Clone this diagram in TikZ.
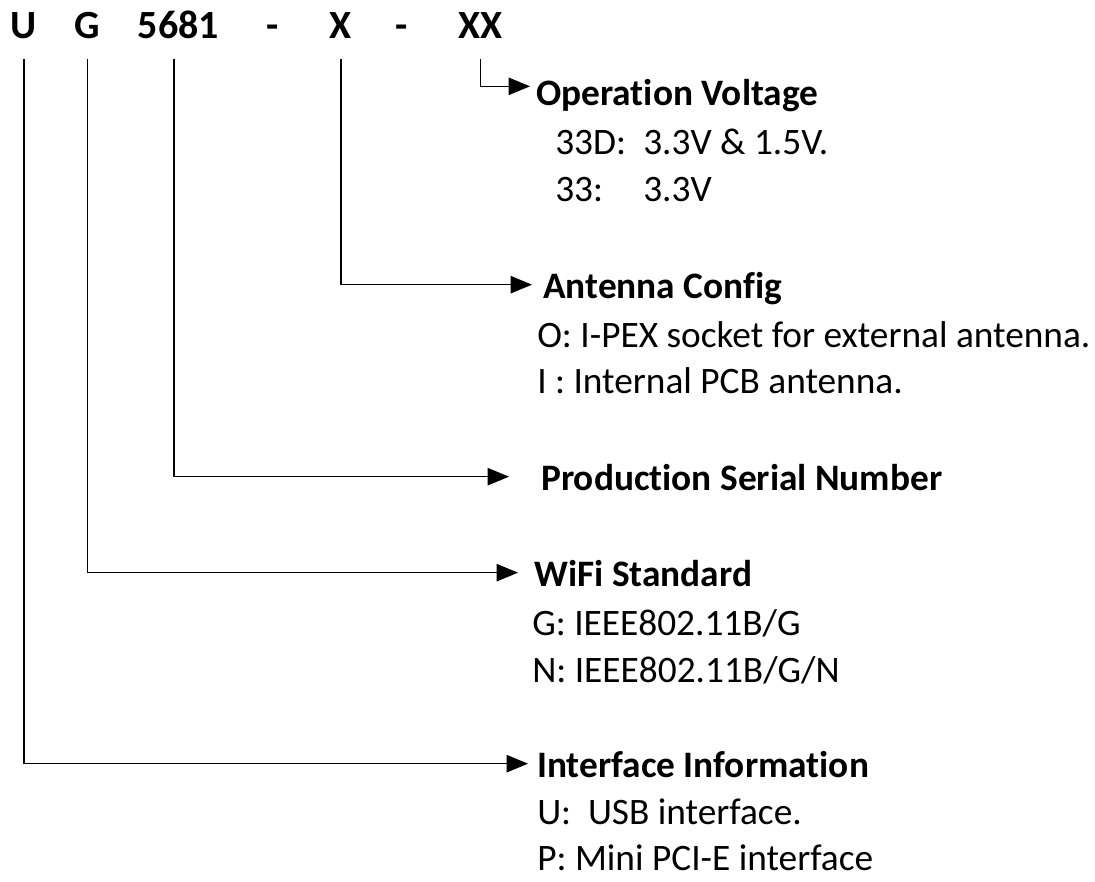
\documentclass[tikz,border=0pt]{standalone}
\usepackage{fontspec}
\setmainfont{Carlito}[Ligatures=NoCommon]
\usetikzlibrary{arrows.meta}
\tikzset{
  code/.style={
    font=\fontsize{30}{36}\selectfont\bfseries,
    inner sep=0pt,
    outer ysep=15pt,
    anchor=base
    },
  heading/.style={
    font=\fontsize{28}{34}\selectfont\bfseries,
    inner sep=0pt,
    text height=20pt,
    text depth=0pt,
    anchor=base west
    },
  entry/.style={
    font=\fontsize{28}{34}\selectfont,
    inner sep=0pt,
    anchor=base west
    },
  arrow/.style={line width=1pt,-{Triangle[length=16pt,width=13pt]}},
}
\begin{document}
\begin{tikzpicture}[x=0.75pt,y=-0.75pt]
\useasboundingbox (0,0) rectangle (1095,881);
% part number
\node[code] (u) at (24,39) {U};
\node[code] (g) at (87.5,39) {G};
\node[code] (num) at (178.5,39) {5681};
\node[code] (d1) at (272.5,39) {-};
\node[code] (x) at (341,39) {X};
\node[code] (d2) at (401.5,39) {-};
\node[code] (xx) at (480.5,39) {XX};
% fields
\node[heading] (ov) at (536,105) {Operation Voltage};
\node[entry] (ov1) at (555,154) {33D:};
\node[entry] (ov1v) at (643,154) {3.3V \& 1.5V.};
\node[entry] (ov2) at (555,201) {33:};
\node[entry] (ov2v) at (643,201) {3.3V};
\node[heading] (ac) at (543,298) {Antenna Config};
\node[entry] (ac1) at (537,347) {O: I-PEX socket for external antenna.};
\node[entry] (ac2) at (537,393) {I : Internal PCB antenna.};
\node[heading] (psn) at (541,490) {Production Serial Number};
\node[heading] (ws) at (534,586) {WiFi Standard};
\node[entry] (ws1) at (532,635) {G: IEEE802.11B/G};
\node[entry] (ws2) at (532,682) {N: IEEE802.11B/G/N};
\node[heading] (ii) at (537,777) {Interface Information};
\node[entry] (ii1) at (537,824) {U:\hspace{0.45em}USB interface.};
\node[entry] (ii2) at (537,870) {P: Mini PCI-E interface};
% connectors
\draw[arrow] (xx.south) |- ([xshift=-4.5pt,yshift=4pt]ov.west);
\draw[arrow] (x.south) |- ([xshift=-8.25pt]ac.west);
\draw[arrow] ([xshift=-3.4pt]num.south) |- ([xshift=-24pt]psn.west);
\draw[arrow] (g.south) |- ([xshift=-12pt]ws.west);
\draw[arrow] (u.south) |- ([xshift=-6.75pt]ii.west);
\end{tikzpicture}
\end{document}
